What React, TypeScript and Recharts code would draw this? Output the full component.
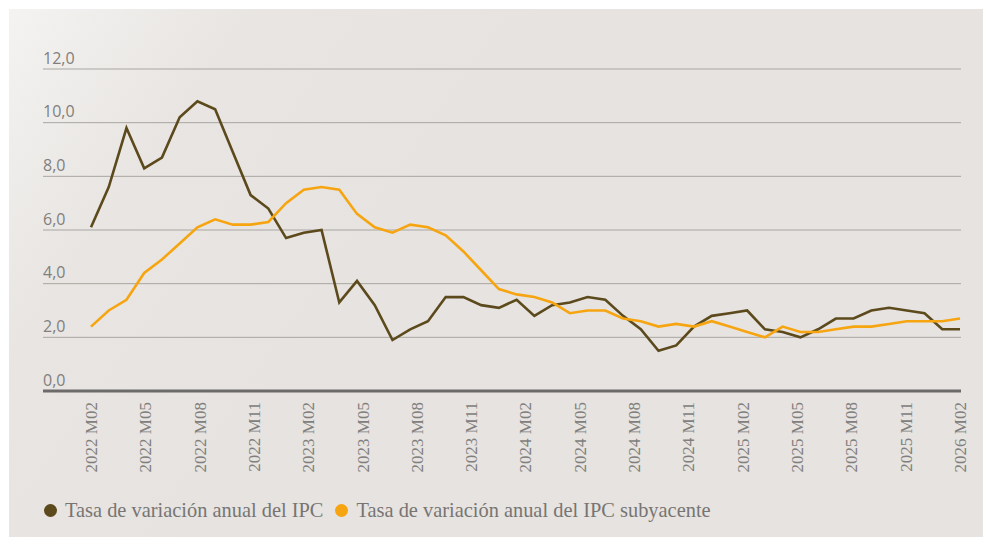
import { LineChart, Line, XAxis, YAxis, CartesianGrid, Legend } from "recharts"

// Tasa de variación anual del IPC (monthly, %)
const ipc = [
  6.1, 7.6, 9.8, 8.3, 8.7, 10.2, 10.8, 10.5, 8.9, 7.3,
  6.8, 5.7, 5.9, 6.0, 3.3, 4.1, 3.2, 1.9, 2.3, 2.6,
  3.5, 3.5, 3.2, 3.1, 3.4, 2.8, 3.2, 3.3, 3.5, 3.4,
  2.8, 2.3, 1.5, 1.7, 2.4, 2.8, 2.9, 3.0, 2.3, 2.2,
  2.0, 2.3, 2.7, 2.7, 3.0, 3.1, 3.0, 2.9, 2.3, 2.3,
]

// Tasa de variación anual del IPC subyacente
const subyacente = [
  2.4, 3.0, 3.4, 4.4, 4.9, 5.5, 6.1, 6.4, 6.2, 6.2,
  6.3, 7.0, 7.5, 7.6, 7.5, 6.6, 6.1, 5.9, 6.2, 6.1,
  5.8, 5.2, 4.5, 3.8, 3.6, 3.5, 3.3, 2.9, 3.0, 3.0,
  2.7, 2.6, 2.4, 2.5, 2.4, 2.6, 2.4, 2.2, 2.0, 2.4,
  2.2, 2.2, 2.3, 2.4, 2.4, 2.5, 2.6, 2.6, 2.6, 2.7,
]

const tickLabels = [
  "2022 M02", "2022 M05", "2022 M08", "2022 M11",
  "2023 M02", "2023 M05", "2023 M08", "2023 M11",
  "2024 M02", "2024 M05", "2024 M08", "2024 M11",
  "2025 M02", "2025 M05", "2025 M08", "2025 M11",
  "2026 M02",
]

const yTicks = [0, 2, 4, 6, 8, 10, 12]

const series = [
  { key: "ipc", name: "Tasa de variación anual del IPC", color: "#5c4a1c" },
  { key: "sub", name: "Tasa de variación anual del IPC subyacente", color: "#f6a511" },
]

const data = ipc.map((v, i) => ({ i, ipc: v, sub: subyacente[i] }))

// labels are spread evenly over the whole data span
const lastIndex = data.length - 1
const xTicks = tickLabels.map((_, k) => (k * lastIndex) / (tickLabels.length - 1))

const PLOT_LEFT = 43
const GREY = "#817f7d"

function YTick(props: any) {
  const { y, payload } = props
  return (
    <text x={PLOT_LEFT} y={y - 5.5} fill={GREY} fontSize={16} fontFamily="'Open Sans', sans-serif" textAnchor="start">
      {Number(payload.value).toFixed(1).replace(".", ",")}
    </text>
  )
}

function XTick(props: any) {
  const { x, y, index } = props
  return (
    <g transform={`translate(${x},${y})`}>
      <text transform="rotate(-90)" x={-3} y={0} dy="0.35em" textAnchor="end" fill={GREY} fontSize={17} fontFamily="'Liberation Serif', serif">
        {tickLabels[index]}
      </text>
    </g>
  )
}

function LegendContent() {
  return (
    <div style={{ display: "flex", alignItems: "center", height: 26, fontFamily: "'Liberation Serif', serif", fontSize: 20.4, color: "#777573" }}>
      {series.map((s) => (
        <div key={s.key} style={{ display: "flex", alignItems: "center", marginRight: 11 }}>
          <span style={{ display: "inline-block", width: 13, height: 13, borderRadius: "50%", background: s.color, marginRight: 8, marginLeft: 1 }} />
          <span>{s.name}</span>
        </div>
      ))}
    </div>
  )
}

export default function App() {
  return (
    <div style={{ position: "absolute", left: 0, top: 0, width: 983, height: 537, background: "#ffffff" }}>
      <div
        style={{
          position: "absolute",
          left: 9,
          top: 9,
          right: 0,
          bottom: 0,
          background: "linear-gradient(125deg, #f4f3f1 0%, #e8e5e2 18%, #e6e3e0 40%, #e6e3e0 100%)",
        }}
      />
      <div style={{ position: "absolute", left: 0, top: 0 }}>
        <LineChart width={983} height={537} data={data} margin={{ top: 69, right: 22, left: 0, bottom: 14 }}>
          <CartesianGrid vertical={false} stroke="#a9a6a2" strokeWidth={1} />
          <XAxis
            dataKey="i"
            type="number"
            domain={[0, lastIndex]}
            ticks={xTicks}
            padding={{ left: 48, right: 1 }}
            interval={0}
            height={106}
            tick={<XTick />}
            tickLine={false}
            axisLine={{ stroke: "#6c6b6a", strokeWidth: 3 }}
          />
          <YAxis domain={[0, 12]} ticks={yTicks} width={PLOT_LEFT} axisLine={false} tickLine={false} tick={<YTick />} />
          <Legend verticalAlign="bottom" align="left" wrapperStyle={{ left: PLOT_LEFT }} content={<LegendContent />} />
          {series.map((s) => (
            <Line
              key={s.key}
              type="linear"
              dataKey={s.key}
              name={s.name}
              stroke={s.color}
              strokeWidth={2.6}
              dot={false}
              isAnimationActive={false}
            />
          ))}
        </LineChart>
      </div>
    </div>
  )
}
